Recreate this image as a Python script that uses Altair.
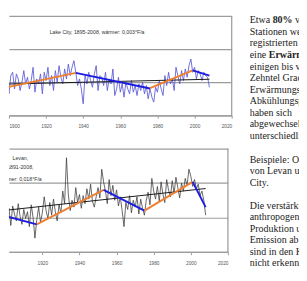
import altair as alt
import pandas as pd

# ---------------- data ----------------
# Upper panel: Lake City (annual mean temperature, °F)
lc_first_year = 1895
lc_temps = [67.4, 68.1, 67.2, 67.9, 68.3,
            67.3, 68.4, 68.6, 67.6, 68.5, 68.2, 67.5, 68.0, 68.7, 67.9,
            68.3, 67.6, 68.1, 68.9, 67.4, 68.2, 67.9, 68.5, 67.3, 68.6,
            68.1, 68.9, 67.8, 68.4, 67.5, 68.7, 68.0, 69.0, 68.3, 67.9,
            68.8, 68.2, 69.1, 68.4, 68.9, 69.3, 68.6, 67.8, 68.2, 67.6,
            66.7, 68.4, 67.9, 68.6, 68.1, 67.7, 68.5, 69.0, 67.5, 68.4,
            68.3, 67.8, 68.6, 67.5, 68.2, 67.9, 68.8, 67.2, 67.6, 68.3,
            67.4, 67.9, 67.1, 68.0, 67.6, 67.3, 68.1, 67.4, 67.8, 67.2,
            67.9, 67.5, 68.0, 67.3, 67.8, 67.0, 67.6, 67.1, 66.8, 67.7,
            67.4, 68.1, 67.6, 67.2, 68.4, 67.8, 68.6, 67.9, 68.2, 67.5,
            68.9, 68.4, 67.9, 68.7, 68.1, 68.8, 68.3, 69.0, 69.4, 68.6,
            68.9, 68.2, 68.7, 68.5, 68.1, 68.6, 68.4, 68.3, 67.7]
lc_trend_years = [[1895, 1900], [1900, 1936], [1936, 1976], [1976, 1999], [1999, 2008]]
lc_trend_temps = [[67.83, 67.72], [67.72, 68.56], [68.56, 67.62], [67.65, 68.72], [68.72, 68.40]]
lc_trend_kind = ["kälter", "wärmer", "kälter", "wärmer", "kälter"]
lc_reg_years = [1895, 2008]
lc_reg_temps = [67.88, 68.18]
lc_y_ticks = [66, 68, 70, 72]

# Lower panel: Levan
lv_first_year = 1891
lv_temps = [47.2, 48.1, 46.8, 47.9, 48.6, 47.0, 48.3, 46.5, 47.6,
            48.4, 46.9, 47.8, 46.3, 48.0, 47.3, 46.7, 48.2, 47.1, 46.4,
            47.7, 46.9, 47.5, 46.2, 48.1, 47.0, 45.2, 46.8, 47.9, 46.6,
            47.4, 48.8, 47.6, 46.9, 48.3, 47.2, 48.6, 47.5, 46.7, 48.1,
            47.4, 49.3, 48.2, 52.2, 49.0, 47.6, 48.5, 47.9, 49.6, 48.3,
            49.0, 47.8, 48.9, 48.2, 49.5, 48.6, 49.9, 48.4, 47.9, 48.8,
            49.6, 48.7, 51.2, 50.1, 49.3, 48.2, 50.3, 48.9, 49.8, 48.5,
            49.4, 48.0, 48.8, 47.6, 46.2, 48.3, 47.7, 48.9, 47.4, 48.5,
            47.9, 48.8, 47.3, 48.6, 47.8, 47.2, 48.5, 49.2, 48.1, 50.4,
            49.3, 48.6, 49.7, 48.4, 50.1, 49.0, 48.3, 50.3, 49.4, 48.8,
            50.2, 49.1, 50.5, 49.6, 48.7, 50.0, 49.3, 50.4, 49.8, 51.2,
            50.6, 49.7, 50.3, 49.5, 49.9, 48.9, 49.3, 48.5, 47.2]
lv_trend_years = [[1891, 1917], [1917, 1953], [1953, 1975], [1975, 2001], [2001, 2008]]
lv_trend_temps = [[47.5, 46.4], [46.4, 49.4], [49.4, 47.6], [47.6, 50.1], [50.1, 47.9]]
lv_trend_kind = ["kälter", "wärmer", "kälter", "wärmer", "kälter"]
lv_reg_years = [1891, 2008]
lv_reg_temps = [47.46, 49.52]
lv_y_ticks = [44, 47, 50, 53]

x_ticks = [1900, 1920, 1940, 1960, 1980, 2000, 2020]

lc_title = ["Lake City, 1895-2008, wärmer: 0,003°F/a"]
lv_title = ["Levan,", "1891-2008,", "wärmer: 0,018°F/a"]

text_block1 = ["Etwa", "Stationen weltweit", "registrierten", "eine",
               "einigen bis vier", "Zehntel Grad.", "Erwärmungs- und",
               "Abkühlungsphasen", "haben sich", "abgewechselt, in",
               "unterschiedlicher"]
text_line1_bold = "80%"
text_line1_rest = "von"
text_line4_bold = "Erwärmung von"
text_block2a = ["Beispiele: Orte", "von Levan und Lake", "City."]
text_block2b = ["Die verstärkte", "anthropogene CO2-", "Produktion und",
                "Emission ab 1950", "sind in den Kurven", "nicht erkennbar."]

# ---------------- styling ----------------
ORANGE = "#ef7f2e"
BLUE = "#1c1ce0"
GRID = "#9c9c9c"
SANS = "Liberation Sans"
SERIF = "Liberation Serif"
LH = 12.15
FS = 10.5


def make_panel(first_year, temps, trend_years, trend_temps, trend_kind,
               reg_years, reg_temps, x_domain, y_domain, y_ticks,
               width, height, line_color, line_width, title_marks):
    series = pd.DataFrame({"year": list(range(first_year, first_year + len(temps))),
                           "temp": temps})
    rows = []
    for i, (yy, tt, k) in enumerate(zip(trend_years, trend_temps, trend_kind)):
        for yv, tv in zip(yy, tt):
            rows.append({"seg": i, "year": yv, "temp": tv, "kind": k})
    trend = pd.DataFrame(rows)
    reg = pd.DataFrame({"year": reg_years, "temp": reg_temps})
    border = pd.DataFrame({"year": [x_domain[1]]})

    xs = alt.Scale(domain=x_domain, nice=False, zero=False)
    ys = alt.Scale(domain=y_domain, nice=False, zero=False)
    xax = alt.Axis(values=[v for v in x_ticks if x_domain[0] <= v <= x_domain[1]],
                   format="d", title=None, grid=False, labelFlush=True,
                   domainColor=GRID, domainWidth=1.3, tickColor=GRID, tickSize=3,
                   labelFontSize=5, labelColor="#555", labelFont=SANS,
                   labelPadding=6)
    yax = alt.Axis(values=y_ticks, labels=False, ticks=False, domain=False,
                   grid=True, gridColor=GRID, gridWidth=1.3, title=None,
                   minExtent=0, maxExtent=0)
    X = alt.X("year:Q", scale=xs, axis=xax)
    Y = alt.Y("temp:Q", scale=ys, axis=yax)

    base_series = alt.Chart(series).mark_line(
        clip=True, color=line_color, strokeWidth=line_width).encode(x=X, y=Y)
    base_reg = alt.Chart(reg).mark_line(
        clip=True, color="#111", strokeWidth=1).encode(x=X, y=Y)
    base_trend = alt.Chart(trend).mark_line(clip=True, strokeWidth=2).encode(
        x=X, y=Y, detail="seg:N",
        color=alt.Color("kind:N", legend=None,
                        scale=alt.Scale(domain=["wärmer", "kälter"],
                                        range=[ORANGE, BLUE])))
    base_border = alt.Chart(border).mark_rule(color=GRID, strokeWidth=1.3).encode(x=X)
    layers = [base_series, base_reg, base_trend, base_border]
    for txt, px, py in title_marks:
        layers.append(alt.Chart(pd.DataFrame({"t": [txt]})).mark_text(
            clip=True, fontSize=5.5, font=SANS, color="#333", align="center",
            baseline="middle").encode(text="t:N", x=alt.value(px), y=alt.value(py)))
    return alt.layer(*layers).properties(width=width, height=height)


top = make_panel(lc_first_year, lc_temps, lc_trend_years, lc_trend_temps, lc_trend_kind,
                 lc_reg_years, lc_reg_temps, [1900, 2020], [66, 72], lc_y_ticks,
                 235, 105, "#5b5bd6", 0.9,
                 [(lc_title[0], 93, 17)])
bottom = make_panel(lv_first_year, lv_temps, lv_trend_years, lv_trend_temps, lv_trend_kind,
                    lv_reg_years, lv_reg_temps, [1902, 2020], [44, 53], lv_y_ticks,
                    231, 109, "#3a3a3a", 0.8,
                    [(lv_title[0], 12, 10), (lv_title[1], 12, 20), (lv_title[2], 12, 32)])

left = alt.vconcat(top, bottom, spacing=20)

serif = dict(font=SERIF, fontSize=FS, color="#222", align="left", baseline="top",
             clip=True, lineBreak="\n", lineHeight=LH)


def text_layer(text, px, py, bold=False):
    kw = dict(serif)
    if bold:
        kw["fontWeight"] = "bold"
    return alt.Chart(pd.DataFrame({"t": [text]})).mark_text(**kw).encode(
        text="t:N", x=alt.value(px), y=alt.value(py))


txt_layers = [
    text_layer("\n".join(text_block1), 0, 0),
    text_layer(text_line1_bold, 24.2, 0, bold=True),
    text_layer(text_line1_rest, 47.8, 0),
    text_layer(text_line4_bold, 20.1, 3 * LH, bold=True),
    text_layer("\n".join(text_block2a), 0, 147),
    text_layer("\n".join(text_block2b), 0, 147 + 4 * LH),
]
text_col = alt.layer(*txt_layers).properties(width=52, height=265)

chart = alt.hconcat(left, text_col, spacing=18).properties(padding=0).configure_view(stroke=None)

chart.save("out.html", embed_options={"renderer": "svg", "actions": False})
